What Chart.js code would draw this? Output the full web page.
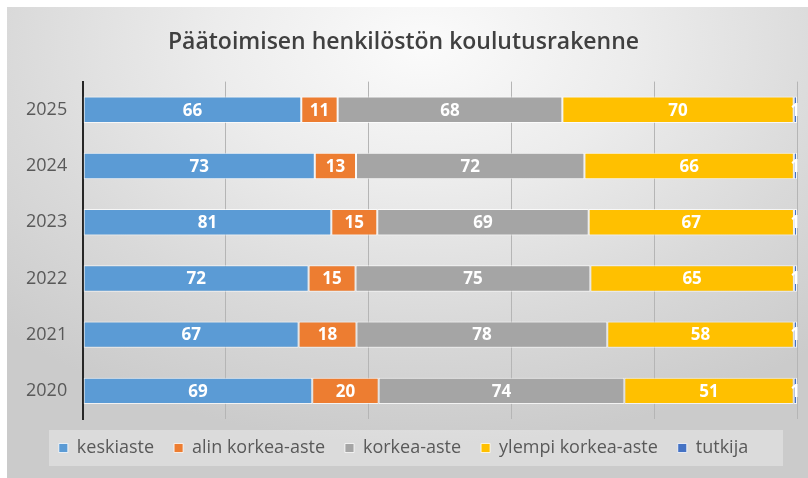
<!DOCTYPE html>
<html>
<head>
<meta charset="utf-8">
<script src="https://cdn.jsdelivr.net/npm/chart.js@4"></script>
<style>
html,body{margin:0;padding:0;background:#fff;}
#wrap{position:relative;width:808px;height:478px;}
#panel{position:absolute;left:7px;top:7px;width:801px;height:471px;
 background:radial-gradient(ellipse 75% 85% at 52% 8%, #fbfbfb 0%, #ececec 35%, #d9d9d9 70%, #cbcbcb 100%);}
canvas{position:absolute;left:0;top:0;}
</style>
</head>
<body>
<div id="wrap"><div id="panel"></div><canvas id="c" width="808" height="478"></canvas></div>
<script>
const years = ['2020','2021','2022','2023','2024','2025'];
const keskiaste = [69, 67, 72, 81, 73, 66];
const alinKorkea = [20, 18, 15, 15, 13, 11];
const korkea = [74, 78, 75, 69, 72, 68];
const ylempiKorkea = [51, 58, 65, 67, 66, 70];
const tutkija = [1, 1, 1, 1, 1, 1];
const seriesNames = ['keskiaste','alin korkea-aste','korkea-aste','ylempi korkea-aste','tutkija'];
const seriesColors = ['#5B9BD5','#ED7D31','#A5A5A5','#FFC000','#4472C4'];
const rawSeries = [keskiaste, alinKorkea, korkea, ylempiKorkea, tutkija];
const totals = years.map((_, i) => rawSeries.reduce((s, a) => s + a[i], 0));

const datasets = rawSeries.map((arr, k) => ({
  label: seriesNames[k],
  data: arr.map((v, i) => v / totals[i] * 100),
  raw: arr,
  backgroundColor: seriesColors[k],
  borderColor: 'rgba(255,255,255,0.75)',
  borderWidth: 1,
  borderSkipped: false,
  barPercentage: 0.94,
  categoryPercentage: 0.5
}));

const labelPlugin = {
  id: 'valueLabels',
  afterDatasetsDraw(chart) {
    const ctx = chart.ctx;
    ctx.save();
    ctx.font = 'bold 17px "Open Sans"';
    ctx.fillStyle = '#ffffff';
    ctx.textAlign = 'center';
    ctx.textBaseline = 'middle';
    chart.data.datasets.forEach((ds, di) => {
      const meta = chart.getDatasetMeta(di);
      meta.data.forEach((el, i) => {
        const cx = (el.x + el.base) / 2;
        ctx.fillText(String(ds.raw[i]), cx, el.y + 1);
      });
    });
    ctx.restore();
  }
};

const legendBg = {
  id: 'legendBg',
  beforeDraw(chart) {
    const ctx = chart.ctx;
    ctx.save();
    ctx.fillStyle = 'rgba(255,255,255,0.32)';
    ctx.fillRect(49, 430, 734, 36);
    ctx.restore();
  }
};

new Chart(document.getElementById('c'), {
  type: 'bar',
  data: { labels: years, datasets },
  plugins: [legendBg, labelPlugin],
  options: {
    indexAxis: 'y',
    responsive: false,
    animation: false,
    events: [],
    layout: { padding: { left: 10, right: 11, top: 0, bottom: 11 } },
    plugins: {
      title: {
        display: true,
        text: 'Päätoimisen henkilöstön koulutusrakenne',
        color: '#404040',
        font: { family: 'Open Sans', size: 23, weight: '600' },
        padding: { top: 29, bottom: 25 }
      },
      legend: {
        position: 'bottom',
        labels: {
          boxWidth: 9, boxHeight: 9,
          color: '#595959',
          font: { family: 'Open Sans', size: 18 },
          padding: 20
        }
      },
      tooltip: { enabled: false }
    },
    scales: {
      x: {
        stacked: true, min: 0, max: 100,
        ticks: { display: false, stepSize: 20 },
        grid: { color: '#b5b5b5', lineWidth: 1, drawTicks: false },
        border: { display: false }
      },
      y: {
        stacked: true, reverse: true,
        grid: { display: false, drawTicks: false },
        border: { display: true, color: '#262626', width: 2 },
        ticks: { color: '#595959', font: { family: 'Open Sans', size: 18 }, padding: 16 }
      }
    }
  }
});
</script>
</body>
</html>
